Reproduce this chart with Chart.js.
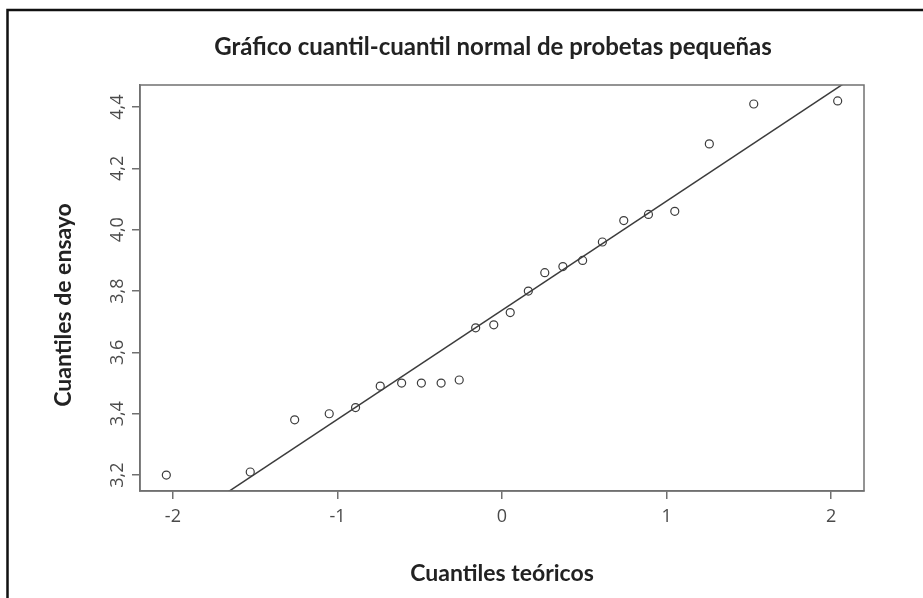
<!DOCTYPE html>
<html>
<head>
<meta charset="utf-8">
<script src="https://cdn.jsdelivr.net/npm/chart.js@4.4.1/dist/chart.umd.min.js"></script>
<style>
  html, body { margin: 0; padding: 0; background: #fff; }
  canvas { display: block; }
</style>
</head>
<body>
<canvas id="qqChart" width="923" height="598"></canvas>
<script>
// Cuantiles teóricos (normal) y cuantiles de ensayo
const theoretical = [-2.04, -1.53, -1.26, -1.05, -0.89, -0.74, -0.61, -0.49, -0.37, -0.26, -0.16, -0.05,
                      0.05, 0.16, 0.26, 0.37, 0.49, 0.61, 0.74, 0.89, 1.05, 1.26, 1.53, 2.04];
const sample = [3.20, 3.21, 3.38, 3.40, 3.42, 3.49, 3.50, 3.50, 3.50, 3.51, 3.68, 3.69,
                3.73, 3.80, 3.86, 3.88, 3.90, 3.96, 4.03, 4.05, 4.06, 4.28, 4.41, 4.42];
const xTicks = [-2, -1, 0, 1, 2];
const yTicks = [3.2, 3.4, 3.6, 3.8, 4.0, 4.2, 4.4];
const xRange = [-2.2, 2.2];
const yRange = [3.148, 4.472];

const titleText = 'Gráfico cuantil-cuantil normal de probetas pequeñas';
const xTitle = 'Cuantiles teóricos';
const yTitle = 'Cuantiles de ensayo';

// qqline: recta por los cuartiles (como en R)
function quantile(arr, p) {
    const s = [...arr].sort((a, b) => a - b);
    const h = (s.length - 1) * p;
    const lo = Math.floor(h);
    const hi = Math.min(lo + 1, s.length - 1);
    return s[lo] + (h - lo) * (s[hi] - s[lo]);
}
const zq = 0.6745; // qnorm(0.75)
const q1 = quantile(sample, 0.25);
const q3 = quantile(sample, 0.75);
const slope = (q3 - q1) / (2 * zq);
const intercept = (q1 + q3) / 2;
const lineData = xRange.map(x => ({ x: x, y: intercept + slope * x }));

const axisGray = '#707070';
const inkGray = '#3c3c3c';

const decorations = {
    id: 'decorations',
    beforeDraw(chart) {
        const ctx = chart.ctx;
        ctx.save();
        ctx.fillStyle = '#fff';
        ctx.fillRect(0, 0, chart.width, chart.height);
        ctx.restore();
    },
    afterDraw(chart) {
        const { ctx, chartArea: a, scales } = chart;
        ctx.save();

        // plot box
        ctx.strokeStyle = axisGray;
        ctx.lineWidth = 1.5;
        ctx.strokeRect(a.left, a.top, a.right - a.left, a.bottom - a.top);

        // y tick labels, parallel to the axis
        ctx.fillStyle = '#4a4a4a';
        ctx.font = '18px "Open Sans"';
        ctx.textAlign = 'center';
        ctx.textBaseline = 'middle';
        yTicks.forEach(v => {
            const y = scales.y.getPixelForValue(v);
            ctx.save();
            ctx.translate(118, y);
            ctx.rotate(-Math.PI / 2);
            ctx.fillText(v.toFixed(1).replace('.', ','), 0, 0);
            ctx.restore();
        });

        // y title
        ctx.fillStyle = '#222';
        ctx.font = 'bold 23px Lato';
        ctx.save();
        ctx.translate(64, 305);
        ctx.rotate(-Math.PI / 2);
        ctx.fillText(yTitle, 0, 0);
        ctx.restore();

        // main title
        ctx.font = 'bold 24px Lato';
        ctx.fillText(titleText, 493, 47);

        // outer frame
        ctx.strokeStyle = '#111';
        ctx.lineWidth = 2.5;
        ctx.strokeRect(7.5, 10, 940, 620);

        ctx.restore();
    }
};

new Chart(document.getElementById('qqChart'), {
    type: 'scatter',
    data: {
        datasets: [{
            label: 'muestra',
            data: theoretical.map((x, i) => ({ x: x, y: sample[i] })),
            pointRadius: 4,
            pointBorderWidth: 1.2,
            pointBackgroundColor: 'rgba(0,0,0,0)',
            pointBorderColor: inkGray
        }, {
            label: 'qqline',
            type: 'line',
            data: lineData,
            borderColor: inkGray,
            borderWidth: 1.5,
            pointRadius: 0,
            fill: false
        }]
    },
    options: {
        responsive: false,
        animation: false,
        layout: { padding: { left: 0, right: 59, top: 85, bottom: 0 } },
        plugins: {
            legend: { display: false },
            tooltip: { enabled: false }
        },
        scales: {
            x: {
                type: 'linear',
                min: xRange[0],
                max: xRange[1],
                afterBuildTicks: scale => { scale.ticks = xTicks.map(v => ({ value: v })); },
                afterFit: scale => { scale.height = 107; },
                grid: { drawOnChartArea: false, drawTicks: true, tickLength: 8, color: axisGray, lineWidth: 1.5 },
                border: { display: true, color: axisGray, width: 1.5 },
                ticks: {
                    color: '#4a4a4a',
                    font: { family: 'Open Sans', size: 18 },
                    padding: 7,
                    maxRotation: 0,
                    callback: v => String(v)
                },
                title: {
                    display: true,
                    text: xTitle,
                    color: '#222',
                    font: { family: 'Lato', size: 23, weight: 'bold' },
                    padding: { top: 0, bottom: 11 }
                }
            },
            y: {
                type: 'linear',
                min: yRange[0],
                max: yRange[1],
                afterBuildTicks: scale => { scale.ticks = yTicks.map(v => ({ value: v })); },
                afterFit: scale => { scale.width = 140; },
                grid: { drawOnChartArea: false, drawTicks: true, tickLength: 8, color: axisGray, lineWidth: 1.5 },
                border: { display: true, color: axisGray, width: 1.5 },
                ticks: { display: false }
            }
        }
    },
    plugins: [decorations]
});
</script>
</body>
</html>
